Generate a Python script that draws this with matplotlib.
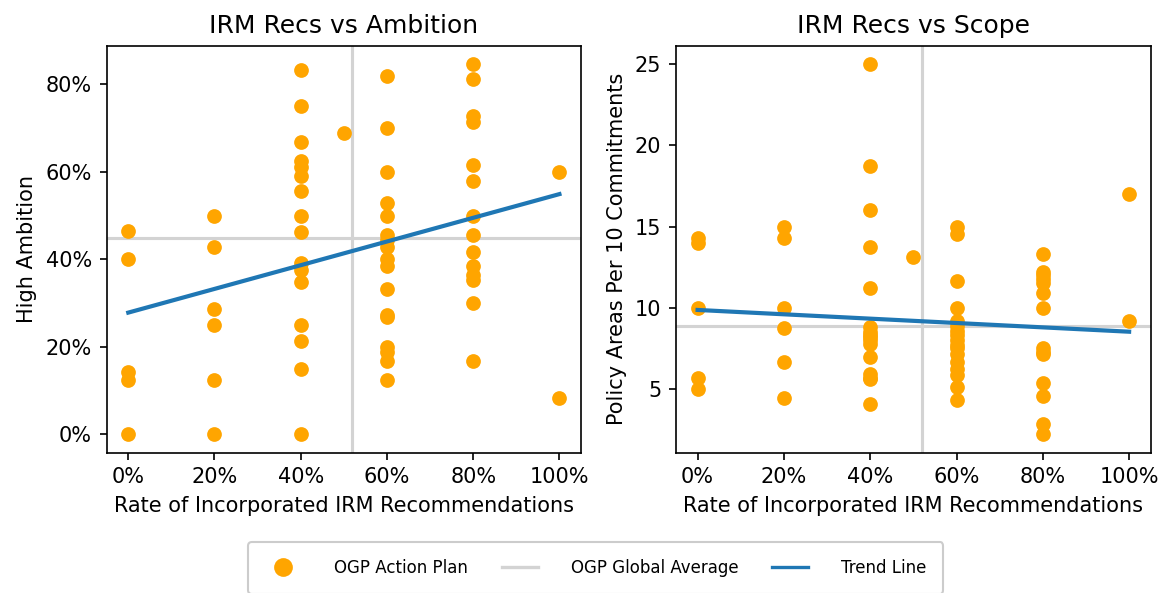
import matplotlib
matplotlib.use("Agg")
import matplotlib.pyplot as plt
from matplotlib.lines import Line2D
from matplotlib.ticker import PercentFormatter

# ---- data ----
irm_rate_amb = ([0]*5 + [20]*6 + [40]*16 + [50] + [60]*17 + [80]*14 + [100]*2)
ambition = ([46.4, 40.0, 14.3, 12.5, 0.0] +
            [50.0, 42.9, 28.6, 25.0, 12.5, 0.0] +
            [83.3, 75.0, 66.7, 62.5, 61.1, 59.1, 55.6, 50.0, 46.2, 39.1, 37.5, 34.8, 25.0, 21.4, 15.0, 0.0] +
            [68.8] +
            [81.8, 70.0, 60.0, 52.9, 50.0, 45.5, 44.4, 42.9, 40.0, 38.5, 33.3, 27.3, 26.7, 20.0, 18.9, 16.7, 12.5] +
            [84.6, 81.3, 72.7, 71.4, 61.5, 57.9, 50.0, 45.5, 41.7, 38.5, 36.4, 35.3, 30.0, 16.7] +
            [60.0, 8.3])

irm_rate_scope = ([0]*5 + [20]*6 + [40]*16 + [50] + [60]*17 + [80]*14 + [100]*2)
scope = ([14.29, 14.0, 10.0, 5.71, 5.0] +
         [15.0, 14.29, 10.0, 8.75, 6.67, 4.44] +
         [25.0, 18.75, 16.0, 13.75, 11.25, 8.8, 8.5, 8.33, 8.2, 7.8, 7.0, 5.9, 5.71, 5.6, 4.1, 8.0] +
         [13.13] +
         [15.0, 14.55, 11.67, 10.0, 9.17, 8.89, 8.57, 8.33, 8.0, 7.69, 7.5, 7.14, 6.67, 6.25, 5.88, 5.13, 4.35] +
         [13.33, 12.2, 12.0, 11.8, 11.5, 10.9, 10.0, 7.5, 7.3, 7.14, 5.38, 4.55, 2.86, 2.22] +
         [17.0, 9.17])

avg_irm_rate = 52.0
avg_ambition = 44.9
avg_scope = 8.9

trend_x = [0, 100]
trend_ambition = [27.8, 54.9]
trend_scope = [9.87, 8.53]

titles = ["IRM Recs vs Ambition", "IRM Recs vs Scope"]
ylabels = ["High Ambition", "Policy Areas Per 10 Commitments"]
xlabel = "Rate of Incorporated IRM Recommendations"
legend_labels = ["OGP Action Plan", "OGP Global Average", "Trend Line"]

# ---- styles ----
ORANGE = "#FFA500"
GRAY = "#D3D3D3"
BLUE = "#1f77b4"

W, H = 1160, 593
fig = plt.figure(figsize=(W/150, H/150), dpi=150)
ax1 = fig.add_axes([106.7/W, 1-452.7/H, (581-106.7)/W, (452.7-45.7)/H])
ax2 = fig.add_axes([676/W, 1-452.7/H, (1150.7-676)/W, (452.7-45.7)/H])

panels = [(ax1, irm_rate_amb, ambition, avg_ambition, trend_ambition),
          (ax2, irm_rate_scope, scope, avg_scope, trend_scope)]

for i, (ax, xs, ys, avg_y, tr) in enumerate(panels):
    ax.scatter(xs, ys, s=50, color=ORANGE, zorder=2, linewidths=0)
    ax.axhline(avg_y, color=GRAY, lw=1.5, zorder=1)
    ax.axvline(avg_irm_rate, color=GRAY, lw=1.5, zorder=1)
    ax.plot(trend_x, tr, color=BLUE, lw=2, zorder=3)
    ax.set_title(titles[i])
    ax.set_ylabel(ylabels[i])
    ax.set_xlabel(xlabel)
    ax.set_xticks([0, 20, 40, 60, 80, 100])
    ax.xaxis.set_major_formatter(PercentFormatter(100, decimals=0))

ax1.set_yticks([0, 20, 40, 60, 80])
ax1.yaxis.set_major_formatter(PercentFormatter(100, decimals=0))
ax2.set_yticks([5, 10, 15, 20, 25])

handles = [Line2D([0], [0], marker='o', color='w', markerfacecolor=ORANGE,
                  markeredgewidth=0, markersize=9),
           Line2D([0], [0], color=GRAY, lw=1.6),
           Line2D([0], [0], color=BLUE, lw=1.6)]
fig.legend(handles, legend_labels, loc='upper left',
           bbox_to_anchor=(248.3/W, 1-542.3/H), ncol=3, fontsize=8,
           handlelength=2.16, handletextpad=2.0, columnspacing=2.0,
           borderpad=1.0, borderaxespad=0, framealpha=1)

fig.savefig("out.png", dpi=150)
